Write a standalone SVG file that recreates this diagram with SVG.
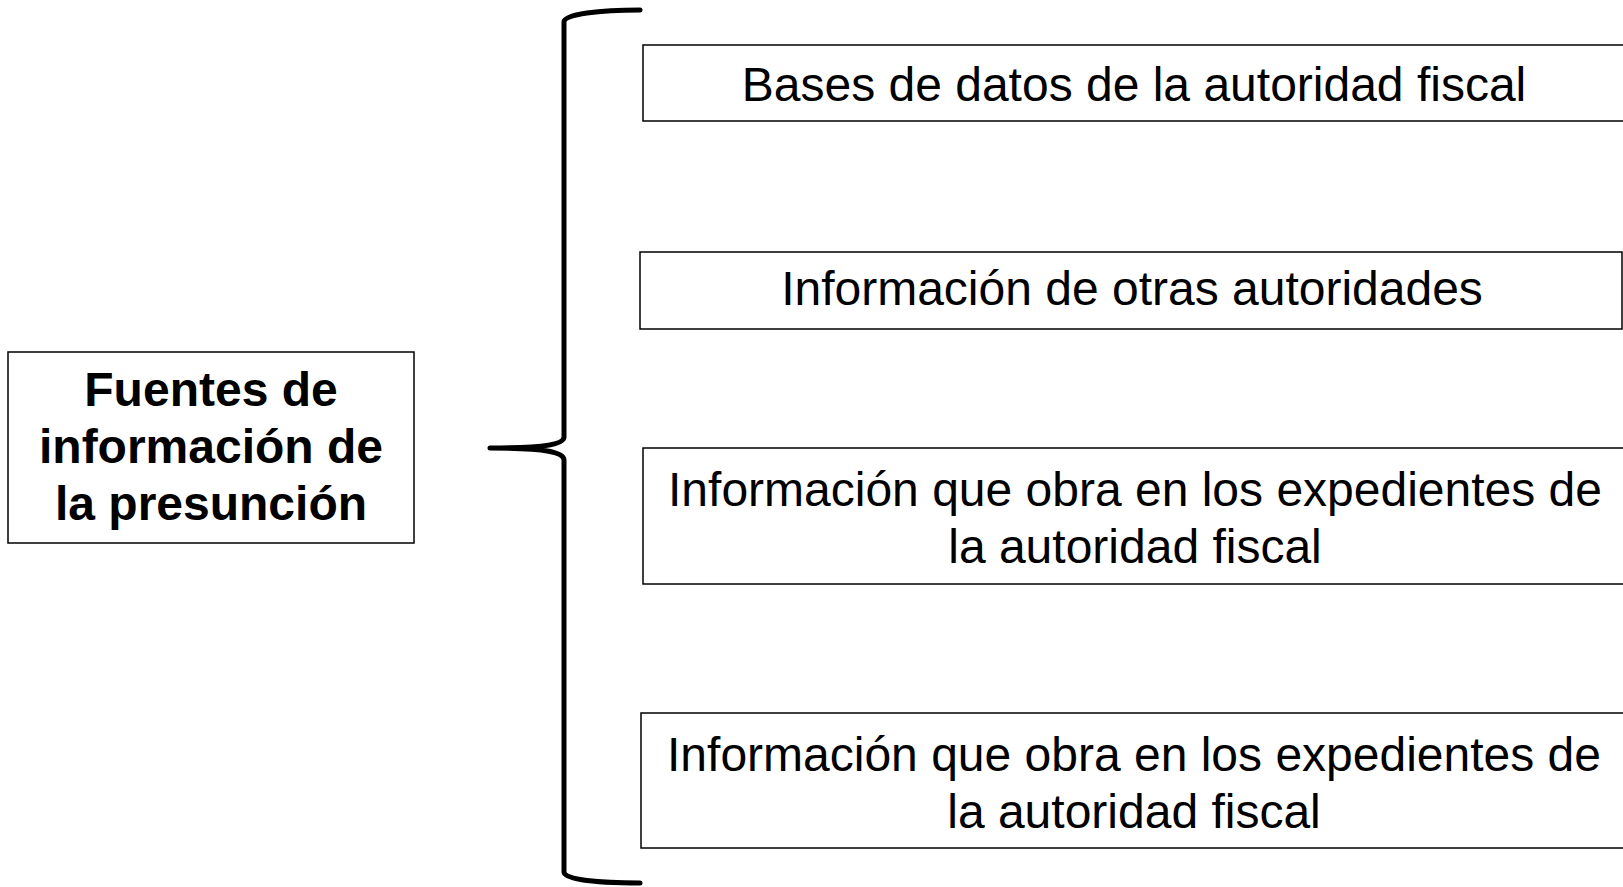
<svg xmlns="http://www.w3.org/2000/svg" width="1623" height="887" viewBox="0 0 1623 887">
<style>
.box{fill:#fff;stroke:#000;stroke-width:1.5}
.t{font-family:"Liberation Sans",Arial,sans-serif;font-size:48px;fill:#000;text-anchor:middle}
.b{font-family:"Liberation Sans",Arial,sans-serif;font-size:48px;font-weight:bold;fill:#000;text-anchor:middle}
.brace{fill:none;stroke:#000;stroke-width:5;stroke-linecap:round;stroke-linejoin:round}
</style>
<rect width="1623" height="887" fill="#fff"/>
<g id="connectors">
<path class="brace" d="M640,10 C600,10 564,14 564,22 L564,437 C564,445 540,448 490,448 C540,448 564,451 564,460 L564,872 C564,880 600,883 640,883"/>
</g>
<g id="node-main">
<rect class="box" x="8" y="352" width="406" height="191"/>
<text class="b" x="211" y="406">Fuentes de</text>
<text class="b" x="211" y="463">información de</text>
<text class="b" x="211" y="520">la presunción</text>
</g>
<g id="node-1">
<rect class="box" x="643" y="45" width="990" height="76"/>
<text class="t" x="1134" y="101">Bases de datos de la autoridad fiscal</text>
</g>
<g id="node-2">
<rect class="box" x="640" y="252" width="982" height="77"/>
<text class="t" x="1132" y="305">Información de otras autoridades</text>
</g>
<g id="node-3">
<rect class="box" x="643" y="448" width="990" height="136"/>
<text class="t" x="1135" y="506">Información que obra en los expedientes de</text>
<text class="t" x="1135" y="563">la autoridad fiscal</text>
</g>
<g id="node-4">
<rect class="box" x="641" y="713" width="990" height="135"/>
<text class="t" x="1134" y="771">Información que obra en los expedientes de</text>
<text class="t" x="1134" y="828">la autoridad fiscal</text>
</g>
</svg>
